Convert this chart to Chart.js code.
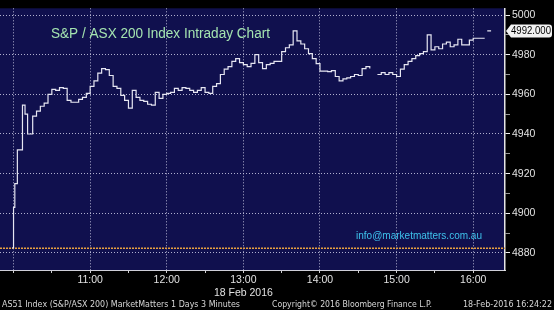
<!DOCTYPE html>
<html>
<head>
<meta charset="utf-8">
<script src="https://cdn.jsdelivr.net/npm/chart.js@4"></script>
<style>
  html, body { margin: 0; padding: 0; background: #000; }
  #wrap { width: 554px; height: 310px; }
</style>
</head>
<body>
<div id="wrap"><canvas id="chart" width="554" height="310"></canvas></div>
<script>
// minutes since midnight, 3 minute bars
const times = [
  599, 600, 601, 603, 607, 609, 611,
  615, 618, 621, 624, 627, 630, 633, 636, 639, 642, 645, 648, 651, 654, 657,
  660, 663, 666, 669, 672, 675, 678, 681, 684, 687, 690, 693, 696, 699, 702,
  705, 708, 711, 714, 717, 720, 723, 726, 729, 732, 735, 738, 741, 744, 747,
  750, 753, 756, 759, 762, 765, 768, 771, 774, 777, 780, 783, 786, 789, 792,
  795, 798, 801, 804, 807, 810, 813, 816, 819, 822, 825, 828, 831, 834, 837,
  840, 843, 846, 849, 852, 855, 858, 861, 864, 867, 870, 873, 876, 879, 882,
  885, 888, 891, 894, 897, 900, 903, 906, 909, 912, 915, 918, 921, 924, 927,
  930, 933, 936, 939, 942, 945, 948, 951, 954, 957, 960, 963, 966, 969
];
const values = [
  4882.6, 4903, 4915, 4932, 4954.6, 4950, 4940,
  4949, 4951.5, 4954, 4955.6, 4960, 4962.5, 4962, 4963.4, 4963, 4957, 4956, 4956, 4957.5, 4958.5, 4960.5,
  4964, 4966.8, 4970.7, 4973, 4972.5, 4969.5, 4964, 4963, 4959.5, 4957, 4953, 4962, 4958.5, 4957, 4956.5,
  4955, 4954.6, 4961, 4958, 4960, 4960.5, 4961, 4963, 4962, 4963.4, 4963, 4962, 4961, 4962, 4963.4,
  4961, 4960.5, 4964, 4965.4, 4970, 4972.7, 4974, 4976.6, 4978, 4976, 4975, 4974, 4975.6, 4980, 4976,
  4973, 4975, 4975.6, 4976.6, 4976.6, 4981.5, 4983.5, 4985, 4992, 4987, 4985.4, 4983, 4980.5, 4978, 4975.5,
  4971.7, 4971.7, 4971.5, 4972, 4969, 4966.8, 4967.8, 4968.3, 4969, 4970, 4969.5, 4973, 4974, 4973, null,
  4970, 4971, 4970, 4971, 4970, 4969, 4972.7, 4975, 4976.6, 4978, 4979.5, 4980.5, 4981.5, 4990, 4982.4,
  4984, 4983, 4985.4, 4986.3, 4984, 4985, 4987.8, 4985, 4985, 4987.3, 4988.3, 4988.3, 4988.3, 4988.3
];
const closeTimes = [971, 974];
const closeValues = [4992, 4992];
const prevClose = 4882.4;
const lastPrice = 4992;

const xTicks = [600, 630, 660, 690, 720, 750, 780, 810, 840, 870, 900, 930, 960];
const yTicks = [4880, 4890, 4900, 4910, 4920, 4930, 4940, 4950, 4960, 4970, 4980, 4990, 5000];
const xMin = 589.4, xMax = 984.9;
const yMin = 4871.4, yMax = 5003.4;

const titleText = 'S&P / ASX 200 Index Intraday Chart';
const emailText = 'info@marketmatters.com.au';
const dateText = '18 Feb 2016';
const footerLeft = 'AS51 Index (S&P/ASX 200) MarketMatters 1 Days 3 Minutes';
const footerMid = 'Copyright\u00A9 2016 Bloomberg Finance L.P.';
const footerRight = '18-Feb-2016 16:24:22';

const gridColor = 'rgba(205,205,230,0.85)';

function hhmm(m) {
    const h = Math.floor(m / 60), mm = m % 60;
    return h + ':' + (mm < 10 ? '0' : '') + mm;
}

// draws background, texts and the last price box
const decor = {
    id: 'decor',
    beforeDraw(chart) {
        const { ctx, chartArea: a } = chart;
        ctx.save();
        ctx.fillStyle = '#000';
        ctx.fillRect(0, 0, chart.width, chart.height);
        ctx.fillStyle = '#10104e';
        ctx.fillRect(a.left, a.top, a.right - a.left, a.bottom - a.top);
        ctx.restore();
    },
    afterDraw(chart) {
        const ctx = chart.ctx;
        const y = chart.scales.y;
        ctx.save();
        ctx.textBaseline = 'alphabetic';
        ctx.textAlign = 'left';

        ctx.font = '14px "Liberation Sans", Arial, sans-serif';
        ctx.fillStyle = '#a4e4b0';
        ctx.fillText(titleText, 51, 38, 219);

        ctx.font = '11px "Liberation Sans", Arial, sans-serif';
        ctx.fillStyle = '#3ec2ec';
        ctx.fillText(emailText, 356, 239, 126);

        // last price tag
        const py = y.getPixelForValue(lastPrice);
        ctx.fillStyle = '#f2f2f2';
        ctx.beginPath();
        ctx.moveTo(506, py);
        ctx.lineTo(511, py - 6.5);
        ctx.lineTo(549, py - 6.5);
        ctx.quadraticCurveTo(552, py - 6.5, 552, py - 3.5);
        ctx.lineTo(552, py + 3.5);
        ctx.quadraticCurveTo(552, py + 6.5, 549, py + 6.5);
        ctx.lineTo(511, py + 6.5);
        ctx.closePath();
        ctx.fill();
        ctx.fillStyle = '#000';
        ctx.font = '10px "Liberation Sans", Arial, sans-serif';
        ctx.fillText(lastPrice.toFixed(3), 511, py + 3.5, 40);

        ctx.font = '9.5px "DejaVu Sans", sans-serif';
        ctx.fillStyle = '#d6d6d6';
        ctx.fillText(footerLeft, 2, 307, 238);
        ctx.fillText(footerMid, 272, 307, 160);
        ctx.fillText(footerRight, 463, 307, 89);
        ctx.restore();
    }
};

new Chart(document.getElementById('chart'), {
    type: 'line',
    data: {
        datasets: [
            {
                data: times.map((t, i) => ({ x: t, y: values[i] })),
                stepped: true,
                borderColor: '#e6e6f2',
                borderWidth: 1.2,
                pointRadius: 0,
                spanGaps: false
            },
            {
                data: closeTimes.map((t, i) => ({ x: t, y: closeValues[i] })),
                borderColor: '#e6e6f2',
                borderWidth: 1.2,
                pointRadius: 0
            },
            {
                data: [{ x: xMin, y: prevClose }, { x: xMax, y: prevClose }],
                borderColor: '#e8a040',
                borderDash: [2, 1],
                borderWidth: 1.5,
                pointRadius: 0
            }
        ]
    },
    options: {
        responsive: false,
        devicePixelRatio: 1,
        animation: false,
        layout: { padding: 0 },
        plugins: { legend: { display: false }, tooltip: { enabled: false }, title: { display: false } },
        scales: {
            x: {
                type: 'linear',
                min: xMin,
                max: xMax,
                afterBuildTicks: s => { s.ticks = xTicks.map(v => ({ value: v })); },
                afterFit: s => { s.height = 40; },
                border: { color: '#cfcfd8', width: 1, dash: [1, 2] },
                grid: {
                    color: c => (c.tick && c.tick.value % 60 === 0) ? gridColor : 'transparent',
                    tickColor: '#d0d0d0',
                    tickLength: 3,
                    tickBorderDash: []
                },
                ticks: {
                    autoSkip: false,
                    maxRotation: 0,
                    padding: 1,
                    color: '#e2e2e2',
                    font: { family: '"Liberation Sans", Arial, sans-serif', size: 10.5 },
                    callback: v => {
                        if (v % 60 !== 0 || v <= 600) return '';
                        if (v === 780) return [hhmm(v), dateText];
                        return hhmm(v);
                    }
                }
            },
            y: {
                type: 'linear',
                position: 'right',
                min: yMin,
                max: yMax,
                afterBuildTicks: s => { s.ticks = yTicks.map(v => ({ value: v })); },
                afterFit: s => { s.width = 49; },
                border: { color: '#e6e6e6', width: 1.5, dash: [1, 2] },
                grid: {
                    color: c => (c.tick && c.tick.value % 20 === 0) ? gridColor : 'transparent',
                    tickColor: c => (c.tick && c.tick.value % 20 === 0) ? '#f0f0f0' : '#9a9a9a',
                    tickLength: 5,
                    tickBorderDash: []
                },
                ticks: {
                    padding: 2,
                    color: '#e2e2e2',
                    font: { family: '"Liberation Sans", Arial, sans-serif', size: 10.5 },
                    callback: v => (v % 20 === 0 ? String(v) : '')
                }
            }
        }
    },
    plugins: [decor]
});
</script>
</body>
</html>
